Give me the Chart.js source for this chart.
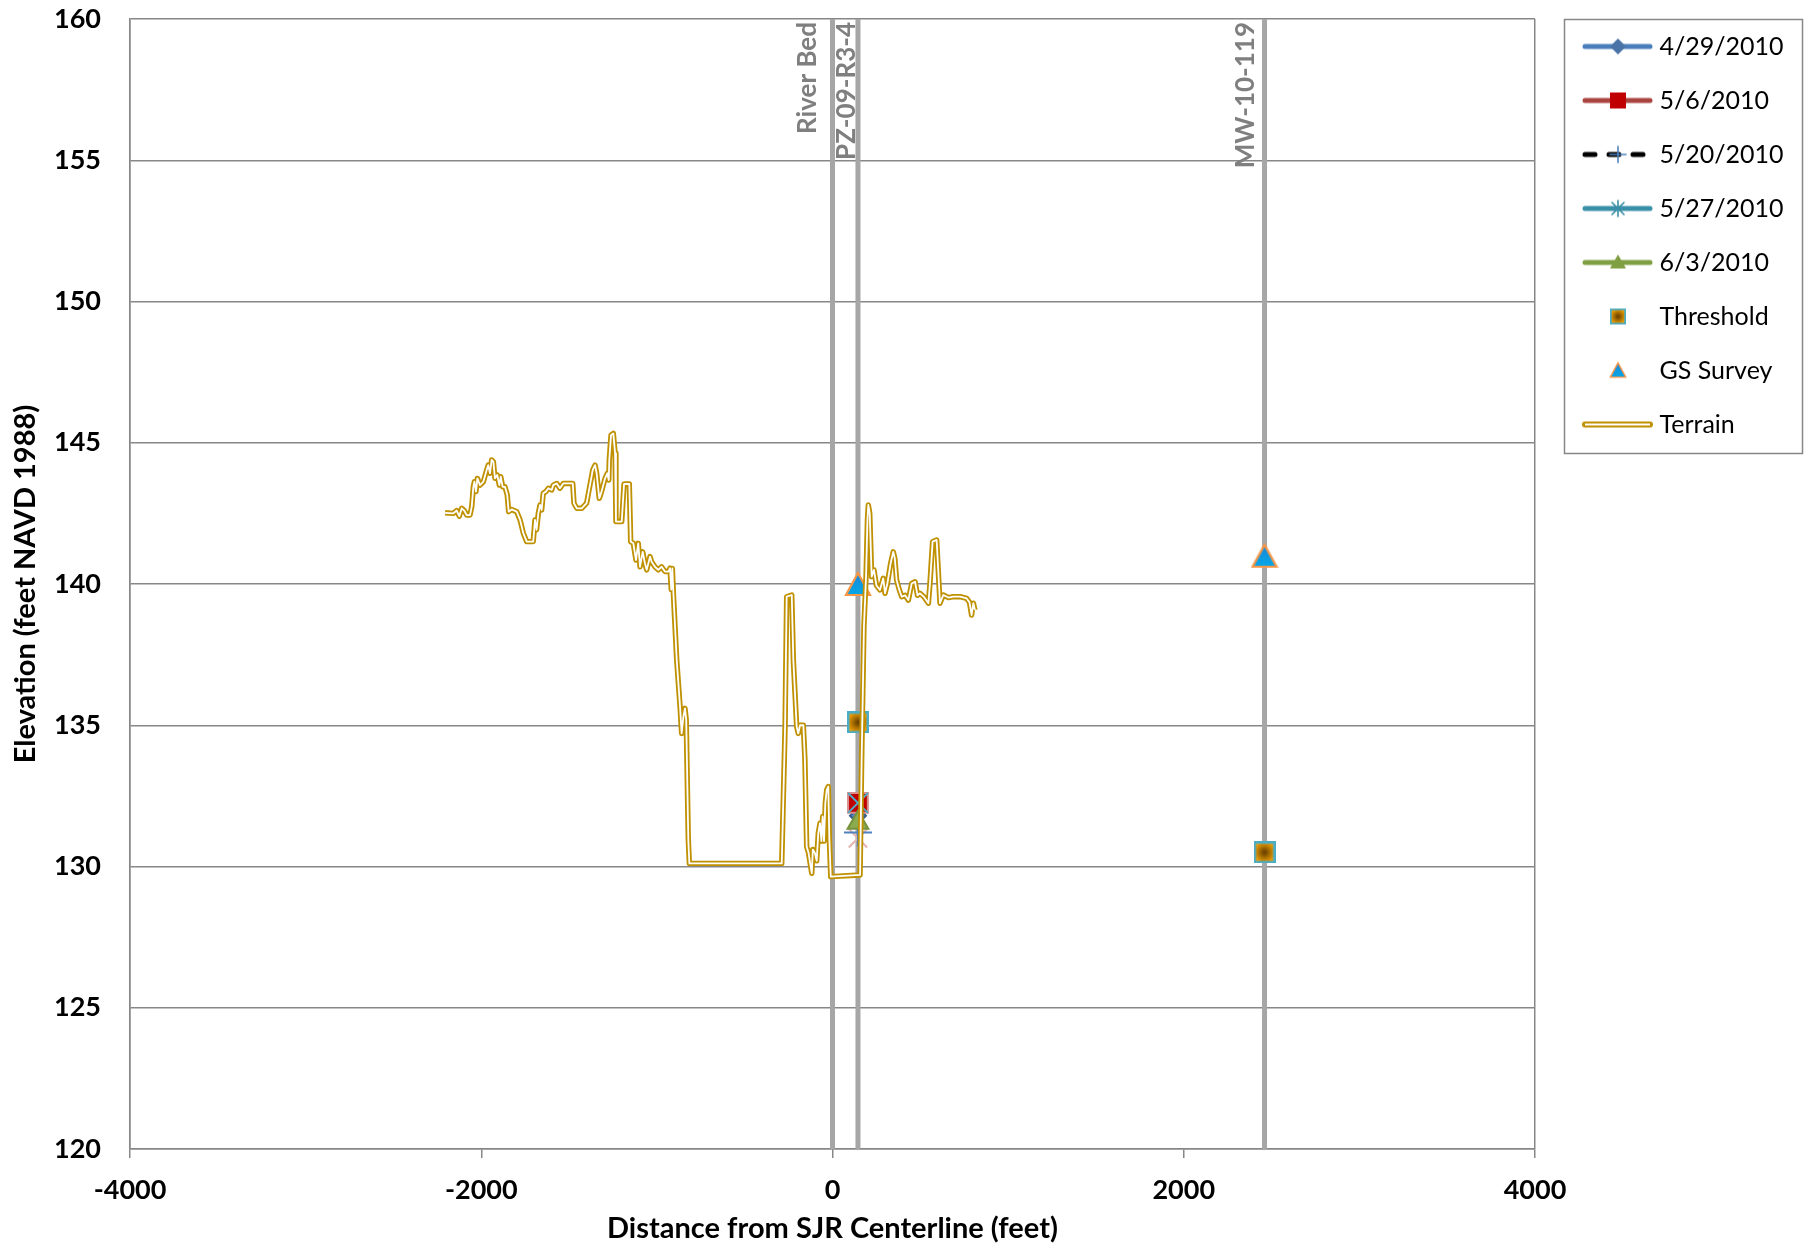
<!DOCTYPE html>
<html>
<head>
<meta charset="utf-8">
<title>Elevation profile</title>
<script src="https://cdn.jsdelivr.net/npm/chart.js@4.4.1/dist/chart.umd.min.js"></script>
<style>
  html, body { margin: 0; padding: 0; background: #fff; }
</style>
</head>
<body>
<canvas id="profileChart" width="1818" height="1251"></canvas>
<script>
// ground surface along the transect
const terrainX = [-2206, -2159, -2140, -2125, -2111, -2097, -2083, -2064, -2054, -2045, -2039, -2030, -2022, -2007, -1988,
  -1969, -1960, -1950, -1941, -1931, -1922, -1909, -1897, -1889, -1878, -1865, -1852, -1844, -1827, -1798, -1779, -1760,
  -1741, -1704, -1694, -1685, -1675, -1665, -1656, -1647, -1632, -1618, -1599, -1590, -1570, -1552, -1533, -1514, -1479,
  -1472, -1456, -1428, -1400, -1381, -1365, -1352, -1343, -1328, -1315, -1295, -1282, -1274, -1271, -1261, -1248, -1238,
  -1233, -1200, -1187, -1157, -1149, -1134, -1119, -1106, -1096, -1081, -1068, -1058, -1039, -1030, -1011, -992, -973,
  -954, -935, -925, -918, -912, -906, -887, -868, -859, -849, -840, -833, -821, -815, -289, -270, -261, -232, -223, -204,
  -195, -185, -166, -157, -147, -137, -118, -112, -100, -90, -81, -71, -63, -56, -48, -41, -33, -24, -18, -10, 157, 166,
  179, 191, 199, 204, 212, 223, 236, 250, 270, 289, 299, 312, 331, 346, 355, 365, 380, 394, 413, 432, 451, 470, 484, 498,
  520, 546, 555, 570, 593, 602, 612, 631, 660, 688, 726, 764, 780, 792, 802, 811];
const terrainY = [142.52, 142.50, 142.60, 142.40, 142.68, 142.60, 142.44, 142.44, 142.74, 143.44, 143.62, 143.27, 143.74, 143.50, 143.62,
  144.04, 144.21, 143.92, 144.39, 144.33, 143.74, 143.86, 143.50, 143.80, 143.44, 143.44, 143.15, 142.56, 142.64, 142.56, 142.27, 141.79,
  141.50, 141.50, 142.27, 141.92, 142.50, 142.80, 142.62, 143.21, 143.27, 143.39, 143.33, 143.50, 143.56, 143.39, 143.56, 143.56, 143.56,
  142.86, 142.68, 142.68, 142.86, 143.50, 144.04, 144.21, 143.92, 143.03, 143.27, 143.74, 143.92, 143.68, 144.39, 145.27, 145.33, 144.63,
  142.21, 142.21, 143.54, 143.54, 141.50, 141.44, 140.85, 141.44, 140.61, 141.14, 140.73, 140.50, 140.97, 140.79, 140.61, 140.50, 140.61,
  140.44, 140.44, 140.56, 139.80, 140.55, 139.67, 137.31, 135.66, 134.71, 135.30, 135.60, 135.20, 130.94, 130.11, 130.11, 134.95, 139.55, 139.61, 137.31, 134.95,
  134.71, 135.00, 135.00, 133.77, 130.70, 130.50, 129.76, 130.60, 130.47, 130.20, 131.18, 131.53, 130.90, 131.77, 130.90, 132.24, 132.71, 132.83, 131.00, 129.64, 129.70, 133.77,
  138.49, 140.26, 142.27, 142.80, 142.50, 140.26, 140.50, 139.95, 139.79, 140.20, 139.67, 140.00, 140.73, 141.14, 140.90, 140.14, 139.80, 139.55, 139.60, 139.43, 140.02, 140.08, 139.60, 139.67,
  139.55, 139.32, 140.02, 141.50, 141.56, 140.50, 139.32, 139.61, 139.52, 139.55, 139.55, 139.49, 139.35, 138.90, 139.32, 139.08];

// vertical reference lines (river bed and wells)
const refNames = ['River Bed', 'PZ-09-R3-4', 'MW-10-119'];
const refX = [0, 145, 2460];

// measured water levels at PZ-09-R3-4
const dates = ['4/29/2010', '5/6/2010', '5/20/2010', '5/27/2010', '6/3/2010'];
const levelX = [145, 145, 145, 145, 145];
const levelY = [131.8, 132.25, 131.2, 132.25, 131.55];
const extraX = [145];
const extraY = [131.0];

const thresholdX = [145, 2460];
const thresholdY = [135.1, 130.5];
const surveyX = [145, 2460];
const surveyY = [140.0, 141.0];

const xTicks = [-4000, -2000, 0, 2000, 4000];
const yTicks = [120, 125, 130, 135, 140, 145, 150, 155, 160];

const GRID = '#878787';
const GOLD = '#BF9000';
const FONT = 'Lato';

const toPoints = (xs, ys) => xs.map((x, i) => ({ x, y: ys[i] }));

function markerCanvas(kind) {
  const c = document.createElement('canvas');
  const g = c.getContext('2d');
  if (kind === 'threshold') {
    c.width = 22; c.height = 22;
    g.fillStyle = '#4BACC6';
    g.fillRect(0, 0, 22, 22);
    const grad = g.createRadialGradient(11, 11, 1, 11, 11, 11);
    grad.addColorStop(0, '#6E4400');
    grad.addColorStop(0.55, '#B87A00');
    grad.addColorStop(1, '#F5A000');
    g.fillStyle = grad;
    g.fillRect(2.5, 2.5, 17, 17);
  } else {
    c.width = 28; c.height = 26;
    g.beginPath();
    g.moveTo(14, 2); g.lineTo(26, 24); g.lineTo(2, 24); g.closePath();
    const grad = g.createLinearGradient(0, 2, 0, 24);
    grad.addColorStop(0, '#1C86D8');
    grad.addColorStop(1, '#05A8E8');
    g.fillStyle = grad;
    g.fill();
    g.lineWidth = 2.2;
    g.strokeStyle = '#F79646';
    g.lineJoin = 'miter';
    g.stroke();
  }
  return c;
}

const thresholdMark = markerCanvas('threshold');
const surveyMark = markerCanvas('survey');

// legend sample: line with marker in the middle
const ICON_W = 95, ICON_H = 30;
function makeIcon(opt) {
  const c = document.createElement('canvas');
  c.width = ICON_W; c.height = ICON_H;
  const g = c.getContext('2d');
  const cy = ICON_H / 2, mx = 60;
  if (opt.line) {
    g.lineCap = 'round';
    g.lineWidth = opt.width || 5;
    g.strokeStyle = opt.line;
    if (opt.dash) g.setLineDash(opt.dash);
    g.beginPath(); g.moveTo(27, cy); g.lineTo(92, cy); g.stroke();
    if (opt.inner) {
      g.lineCap = 'butt';
      g.lineWidth = 2.2;
      g.strokeStyle = opt.inner;
      g.beginPath(); g.moveTo(27, cy); g.lineTo(92, cy); g.stroke();
    }
  }
  g.setLineDash([]);
  const m = opt.marker;
  if (m === 'diamond') {
    g.beginPath();
    g.moveTo(mx, cy - 8); g.lineTo(mx + 8, cy); g.lineTo(mx, cy + 8); g.lineTo(mx - 8, cy); g.closePath();
    g.fillStyle = opt.fill; g.fill();
  } else if (m === 'square') {
    g.fillStyle = opt.fill; g.fillRect(mx - 8, cy - 8, 16, 16);
  } else if (m === 'plus') {
    g.strokeStyle = opt.fill; g.lineWidth = 1.6;
    g.beginPath(); g.moveTo(mx - 8, cy); g.lineTo(mx + 8, cy); g.moveTo(mx, cy - 8); g.lineTo(mx, cy + 8); g.stroke();
  } else if (m === 'star') {
    g.strokeStyle = opt.fill; g.lineWidth = 1.6;
    g.beginPath();
    g.moveTo(mx - 8, cy); g.lineTo(mx + 8, cy); g.moveTo(mx, cy - 8); g.lineTo(mx, cy + 8);
    g.moveTo(mx - 6, cy - 6); g.lineTo(mx + 6, cy + 6); g.moveTo(mx - 6, cy + 6); g.lineTo(mx + 6, cy - 6);
    g.stroke();
  } else if (m === 'triangle') {
    g.beginPath();
    g.moveTo(mx, cy - 8); g.lineTo(mx + 8, cy + 6); g.lineTo(mx - 8, cy + 6); g.closePath();
    g.fillStyle = opt.fill; g.fill();
  } else if (m === 'threshold') {
    g.drawImage(thresholdMark, 0, 0, 22, 22, mx - 8, cy - 8, 16, 16);
  } else if (m === 'survey') {
    g.drawImage(surveyMark, 0, 0, 28, 26, mx - 9, cy - 9, 18, 17);
  }
  return c;
}

const levelStyles = [
  { pointStyle: 'rectRot', radius: 8, fill: '#4F81BD', border: '#385D8A', line: '#4A7EBB',
    icon: { line: '#4A7EBB', marker: 'diamond', fill: '#4A74A8' } },
  { pointStyle: 'rect', radius: 14, fill: '#C00000', border: '#D88C8C', line: '#BE4B48',
    icon: { line: '#A94440', marker: 'square', fill: '#C00000' } },
  { pointStyle: 'cross', radius: 14, fill: '#4F81BD', border: '#4F81BD', line: '#000000',
    icon: { line: '#000000', dash: [10, 14], marker: 'plus', fill: '#4F81BD' } },
  { pointStyle: 'crossRot', radius: 14, fill: '#4BACC6', border: '#4BACC6', line: '#3A8FA8',
    icon: { line: '#3A8FA8', marker: 'star', fill: '#3A8FA8' } },
  { pointStyle: 'triangle', radius: 12, fill: '#8CAA4E', border: '#76923C', line: '#7F9F42',
    icon: { line: '#7F9F42', marker: 'triangle', fill: '#7F9F42' } }
];

const datasets = [];
dates.forEach((d, i) => {
  const s = levelStyles[i];
  datasets.push({
    label: d,
    data: [{ x: levelX[i], y: levelY[i] }],
    pointStyle: s.pointStyle,
    pointRadius: s.radius,
    pointBackgroundColor: s.fill,
    pointBorderColor: s.border,
    pointBorderWidth: 2,
    borderColor: s.line,
    order: 8 - i,
    legendIcon: makeIcon(s.icon)
  });
});
datasets.push({
  label: 'Threshold',
  data: toPoints(thresholdX, thresholdY),
  pointStyle: thresholdMark,
  order: 3,
  legendIcon: makeIcon({ marker: 'threshold' })
});
datasets.push({
  label: 'GS Survey',
  data: toPoints(surveyX, surveyY),
  pointStyle: surveyMark,
  order: 2,
  legendIcon: makeIcon({ marker: 'survey' })
});
// inner white stroke of the double terrain line
datasets.push({
  label: 'terrain-core',
  data: toPoints(terrainX, terrainY),
  showLine: true,
  pointRadius: 0,
  borderColor: '#FFFFFF',
  borderWidth: 1.8,
  borderJoinStyle: 'round',
  order: 0
});
datasets.push({
  label: 'Terrain',
  data: toPoints(terrainX, terrainY),
  showLine: true,
  pointRadius: 0,
  borderColor: GOLD,
  borderWidth: 5.4,
  borderJoinStyle: 'round',
  order: 1,
  legendIcon: makeIcon({ line: GOLD, width: 6, inner: '#FFFFFF' })
});
datasets.push({
  label: 'extra',
  data: toPoints(extraX, extraY),
  pointStyle: 'crossRot',
  pointRadius: 13,
  pointBorderColor: '#E3B4B0',
  pointBorderWidth: 2,
  order: 9
});
refX.forEach((x, i) => {
  datasets.push({
    label: refNames[i],
    data: [{ x, y: yTicks[0] }, { x, y: yTicks[yTicks.length - 1] }],
    showLine: true,
    pointRadius: 0,
    borderColor: '#A6A6A6',
    borderWidth: 5,
    order: 10
  });
});

const LEGEND_W = 283;
const legendWidth = {
  id: 'legendWidth',
  afterInit(chart) {
    const legend = chart.legend;
    const fit = legend.fit.bind(legend);
    legend.fit = () => { fit(); legend.width = LEGEND_W; };
  }
};

const legendFrame = {
  id: 'legendFrame',
  afterDraw(chart) {
    const { ctx, legend, chartArea } = chart;
    ctx.save();
    ctx.strokeStyle = GRID;
    ctx.lineWidth = 1.5;
    ctx.strokeRect(legend.left + 29.5, chartArea.top + 0.5, 238, 434);
    ctx.restore();
  }
};

// rotated names beside the reference lines
const labelGap = { 'River Bed': 17, 'PZ-09-R3-4': 3, 'MW-10-119': 11 };
const refLabels = {
  id: 'refLabels',
  afterDatasetsDraw(chart) {
    const { ctx, chartArea } = chart;
    const xs = chart.scales.x;
    ctx.save();
    ctx.font = 'bold 26px ' + FONT;
    ctx.fillStyle = '#7F7F7F';
    ctx.textAlign = 'right';
    ctx.textBaseline = 'alphabetic';
    refNames.forEach((name, i) => {
      ctx.save();
      ctx.translate(xs.getPixelForValue(refX[i]) - labelGap[name], chartArea.top + 3);
      ctx.rotate(-Math.PI / 2);
      ctx.fillText(name, 0, 0);
      ctx.restore();
    });
    ctx.restore();
  }
};

const edgeGrid = ctx => (ctx.tick && (ctx.tick.value === xTicks[0] || ctx.tick.value === xTicks[xTicks.length - 1]) ? GRID : 'rgba(0,0,0,0)');

new Chart(document.getElementById('profileChart'), {
  type: 'scatter',
  data: { datasets },
  plugins: [legendWidth, legendFrame, refLabels],
  options: {
    responsive: false,
    animation: false,
    devicePixelRatio: 1,
    layout: { autoPadding: false, padding: { top: 5, left: 0, right: 0, bottom: 0 } },
    plugins: {
      tooltip: { enabled: false },
      legend: {
        position: 'right',
        align: 'start',
        labels: {
          usePointStyle: true,
          pointStyleWidth: 83,
          padding: 29,
          color: '#000',
          font: { family: FONT, size: 25 },
          generateLabels: chart => chart.data.datasets
            .map((ds, i) => ({
              text: ds.label,
              pointStyle: ds.legendIcon,
              datasetIndex: i,
              hidden: false,
              lineWidth: 0,
              fillStyle: 'rgba(0,0,0,0)',
              strokeStyle: 'rgba(0,0,0,0)',
              fontColor: '#000'
            }))
            .filter(item => item.pointStyle)
        }
      }
    },
    scales: {
      x: {
        type: 'linear',
        min: xTicks[0],
        max: xTicks[xTicks.length - 1],
        afterBuildTicks: axis => { axis.ticks = xTicks.map(v => ({ value: v })); },
        afterFit: axis => { axis.height = 102; },
        grid: { color: edgeGrid, lineWidth: 1.5, tickColor: GRID, tickLength: 9 },
        border: { color: GRID, width: 1.5 },
        ticks: {
          color: '#000', padding: 16,
          font: { family: FONT, size: 27, weight: 'bold' },
          callback: v => String(v)
        },
        title: {
          display: true,
          text: 'Distance from SJR Centerline (feet)',
          color: '#000',
          padding: { top: 4, bottom: 5 },
          font: { family: FONT, size: 29, weight: 'bold' }
        }
      },
      y: {
        type: 'linear',
        min: yTicks[0],
        max: yTicks[yTicks.length - 1],
        afterBuildTicks: axis => { axis.ticks = yTicks.map(v => ({ value: v })); },
        afterFit: axis => { axis.width = 130; axis.paddingTop = 19; axis.paddingBottom = 16; },
        grid: { color: GRID, lineWidth: 1.5, drawTicks: false },
        border: { color: GRID, width: 1.5 },
        ticks: {
          color: '#000', padding: 29,
          font: { family: FONT, size: 27, weight: 'bold' },
          callback: v => String(v)
        },
        title: {
          display: true,
          text: 'Elevation (feet NAVD 1988)',
          color: '#000',
          padding: { top: 8, bottom: 10 },
          font: { family: FONT, size: 29, weight: 'bold' }
        }
      }
    }
  }
});
</script>
</body>
</html>
